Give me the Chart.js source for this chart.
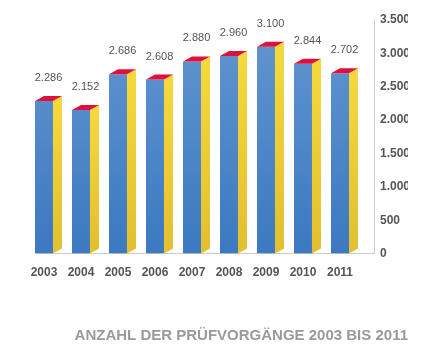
<!DOCTYPE html>
<html>
<head>
<meta charset="utf-8">
<script src="https://cdn.jsdelivr.net/npm/chart.js@4.4.1/dist/chart.umd.min.js"></script>
<style>
  html, body { margin: 0; padding: 0; background: #ffffff; }
  #wrap { width: 421px; height: 358px; }
</style>
</head>
<body>
<div id="wrap"><canvas id="c" width="421" height="358"></canvas></div>
<script>
// ---- data ----
const years = ['2003', '2004', '2005', '2006', '2007', '2008', '2009', '2010', '2011'];
const counts = [2286, 2152, 2686, 2608, 2880, 2960, 3100, 2844, 2702];
const yTicks = [0, 500, 1000, 1500, 2000, 2500, 3000, 3500];
const titleText = 'ANZAHL DER PRÜFVORGÄNGE 2003 BIS 2011';

const fmt = v => String(v).replace(/\B(?=(\d{3})+(?!\d))/g, '.');
const FONT = '"Liberation Sans", Arial, Helvetica, sans-serif';

const bar3d = {
  id: 'bar3d',
  afterDatasetsDraw(chart) {
    const c = chart.ctx;
    const meta = chart.getDatasetMeta(0);
    const dx = 9, dy = 5;
    meta.data.forEach((bar, i) => {
      const p = bar.getProps(['x', 'y', 'base', 'width'], true);
      const xl = p.x - p.width / 2, xr = p.x + p.width / 2;
      c.save();
      // side face
      const g = c.createLinearGradient(0, p.y, 0, p.base);
      g.addColorStop(0, '#f6d83c');
      g.addColorStop(1, '#e2bf2e');
      c.fillStyle = g;
      c.beginPath();
      c.moveTo(xr, p.y);
      c.lineTo(xr + dx, p.y - dy);
      c.lineTo(xr + dx, p.base - dy);
      c.lineTo(xr, p.base);
      c.closePath();
      c.fill();
      // top face
      c.fillStyle = '#e0103c';
      c.beginPath();
      c.moveTo(xl, p.y);
      c.lineTo(xl + dx, p.y - dy);
      c.lineTo(xr + dx, p.y - dy);
      c.lineTo(xr, p.y);
      c.closePath();
      c.fill();
      // value label
      c.fillStyle = '#555555';
      c.font = '11px ' + FONT;
      c.textAlign = 'center';
      c.textBaseline = 'middle';
      c.fillText(fmt(counts[i]), p.x + dx / 2, p.y - dy - 18);
      c.restore();
    });
  }
};

new Chart(document.getElementById('c'), {
  type: 'bar',
  data: {
    datasets: [{
      data: counts.map((v, i) => ({ x: i, y: v })),
      backgroundColor: (ctx) => {
        const area = ctx.chart.chartArea;
        if (!area) return '#4a84c6';
        const g = ctx.chart.ctx.createLinearGradient(0, area.top, 0, area.bottom);
        g.addColorStop(0, '#6396d0');
        g.addColorStop(1, '#3c79c1');
        return g;
      },
      borderWidth: 0,
      categoryPercentage: 1,
      barPercentage: 18 / 37
    }]
  },
  options: {
    responsive: false,
    animation: false,
    devicePixelRatio: 1,
    layout: { padding: { left: 35, right: 13, top: 20, bottom: 0 } },
    scales: {
      x: {
        type: 'linear',
        offset: false,
        min: -0.243,
        max: 8.919,
        afterBuildTicks: s => { s.ticks = years.map((_, i) => ({ value: i })); },
        grid: { display: false, drawTicks: false, offset: false },
        border: { display: true, color: '#cccccc', width: 1 },
        ticks: {
          padding: 12,
          color: '#555555',
          font: { family: FONT, size: 12, weight: 'bold' },
          callback: v => years[v] ?? ''
        }
      },
      y: {
        position: 'right',
        min: 0,
        max: 3500,
        afterBuildTicks: s => { s.ticks = yTicks.map(v => ({ value: v })); },
        afterFit: s => { s.width = 34; },
        grid: { display: false, drawTicks: false },
        border: { display: true, color: '#cccccc', width: 1 },
        ticks: {
          padding: 6,
          color: '#555555',
          font: { family: FONT, size: 12, weight: 'bold' },
          callback: v => fmt(v)
        }
      }
    },
    plugins: {
      legend: { display: false },
      tooltip: { enabled: false },
      title: {
        display: true,
        position: 'bottom',
        align: 'end',
        text: titleText,
        color: '#9a9a9a',
        font: { family: FONT, size: 15, weight: 'bold' },
        padding: { top: 35, bottom: 13 }
      }
    }
  },
  plugins: [bar3d]
});
</script>
</body>
</html>
